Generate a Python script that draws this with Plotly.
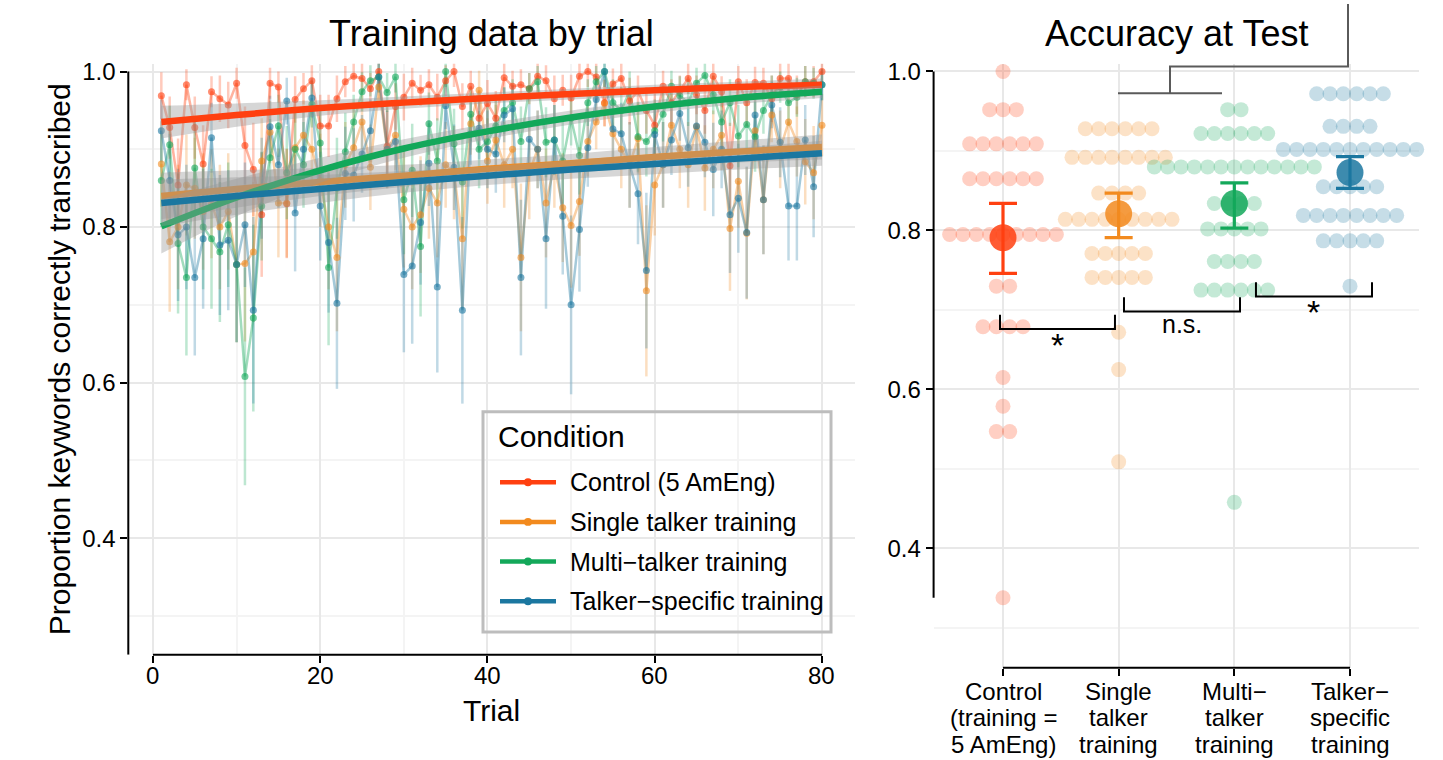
import plotly.graph_objects as go

W, H = 1443, 760
FONT = "Liberation Sans, Arial, Helvetica, sans-serif"

# ---------------- data: training (left panel) ----------------
trials = list(range(1, 81))
trial_ticks = [0, 20, 40, 60, 80]
conditions = ["Control (5 AmEng)", "Single talker training",
              "Multi\u2212talker training", "Talker\u2212specific training"]
cond_colors = ["#FF4010", "#F28A1E", "#13A85A", "#1B77A0"]

control_acc = [0.969, 0.928, 0.854, 0.983, 0.928, 0.881, 0.974, 0.965, 0.957, 0.985,
               0.905, 0.874, 0.816, 0.985, 0.980, 0.830, 0.964, 0.978, 0.988, 0.930,
               0.930, 0.965, 0.987, 0.994, 0.991, 0.978, 1.000, 0.904, 0.955, 0.967,
               0.985, 0.976, 0.983, 0.967, 0.988, 1.000, 0.955, 0.981, 0.940, 0.959,
               0.940, 0.992, 0.981, 0.983, 0.978, 0.994, 0.988, 0.965, 0.976, 0.966,
               0.994, 1.000, 0.993, 0.960, 0.984, 0.991, 0.962, 0.975, 0.950, 0.931,
               0.981, 0.960, 0.975, 0.991, 0.970, 0.950, 0.994, 0.974, 0.879, 0.987,
               0.960, 0.986, 0.985, 0.965, 0.991, 0.991, 0.970, 0.987, 0.987, 1.000]
single_acc = [0.881, 0.781, 0.800, 0.854, 0.850, 0.820, 0.830, 0.800, 0.820, 0.752,
              0.753, 0.768, 0.885, 0.922, 0.831, 0.831, 0.902, 0.918, 0.900, 0.860,
              0.800, 0.761, 0.880, 0.902, 0.935, 0.877, 0.980, 0.900, 0.918, 0.823,
              0.800, 0.816, 0.850, 0.831, 0.880, 0.870, 0.785, 0.933, 0.976, 0.885,
              0.912, 0.880, 0.900, 0.761, 0.870, 0.900, 0.831, 0.880, 0.825, 0.802,
              0.833, 0.910, 0.935, 0.959, 0.920, 0.900, 0.880, 0.914, 0.718, 0.854,
              0.880, 0.931, 0.900, 0.880, 0.929, 0.876, 0.900, 0.918, 0.798, 0.859,
              0.792, 0.924, 0.835, 0.944, 0.900, 0.935, 0.910, 0.884, 0.870, 0.931]
multi_acc = [0.860, 0.906, 0.779, 0.735, 0.876, 0.800, 0.785, 0.768, 0.803, 0.752,
             0.608, 0.683, 0.827, 0.889, 0.930, 0.870, 0.900, 0.880, 0.958, 0.908,
             0.748, 0.850, 0.897, 0.935, 0.974, 0.988, 0.993, 0.973, 0.993, 0.835,
             0.873, 0.775, 0.933, 0.885, 1.000, 0.907, 0.858, 0.945, 0.900, 0.910,
             0.930, 0.950, 0.960, 0.910, 0.978, 0.987, 0.909, 0.912, 0.885, 0.940,
             0.892, 0.960, 0.987, 1.000, 0.960, 0.950, 0.975, 0.916, 0.910, 0.924,
             0.945, 0.981, 0.969, 0.960, 0.985, 0.995, 0.970, 0.935, 0.960, 0.917,
             0.932, 0.916, 0.950, 0.970, 0.980, 0.960, 0.967, 0.987, 0.985, 0.983]
talker_acc = [0.924, 0.860, 0.790, 0.800, 0.735, 0.785, 0.915, 0.777, 0.783, 0.752,
              0.803, 0.693, 0.850, 0.929, 0.880, 0.962, 0.818, 0.900, 0.966, 0.827,
              0.780, 0.702, 0.869, 0.867, 0.894, 0.924, 0.993, 0.900, 0.910, 0.739,
              0.750, 0.806, 0.882, 0.723, 0.956, 0.877, 0.693, 0.920, 0.927, 0.900,
              0.894, 0.944, 0.952, 0.735, 0.913, 0.900, 0.785, 0.912, 0.814, 0.700,
              0.797, 0.902, 0.964, 1.000, 0.926, 0.920, 0.880, 0.843, 0.744, 0.919,
              0.880, 0.912, 0.946, 0.902, 0.930, 0.909, 0.874, 0.900, 0.816, 0.837,
              0.793, 0.944, 0.835, 0.957, 0.909, 0.827, 0.827, 0.912, 0.852, 0.983]

control_err = [0.03, 0.04, 0.06, 0.02, 0.04, 0.05, 0.02, 0.03, 0.03, 0.02,
               0.05, 0.06, 0.08, 0.02, 0.02, 0.07, 0.03, 0.02, 0.02, 0.04,
               0.04, 0.03, 0.02, 0.02, 0.02, 0.02, 0.02, 0.05, 0.03, 0.03,
               0.02, 0.02, 0.02, 0.03, 0.02, 0.02, 0.03, 0.02, 0.035, 0.03,
               0.035, 0.02, 0.02, 0.02, 0.02, 0.02, 0.02, 0.03, 0.02, 0.03,
               0.02, 0.02, 0.02, 0.03, 0.02, 0.02, 0.03, 0.02, 0.03, 0.04,
               0.02, 0.03, 0.02, 0.02, 0.025, 0.03, 0.02, 0.02, 0.055, 0.02,
               0.03, 0.02, 0.02, 0.03, 0.02, 0.02, 0.025, 0.02, 0.02, 0.02]
single_err = [0.055, 0.09, 0.08, 0.065, 0.065, 0.075, 0.07, 0.08, 0.075, 0.10,
              0.10, 0.09, 0.055, 0.04, 0.07, 0.07, 0.05, 0.045, 0.05, 0.06,
              0.08, 0.095, 0.055, 0.05, 0.035, 0.055, 0.02, 0.05, 0.045, 0.075,
              0.08, 0.075, 0.065, 0.07, 0.055, 0.06, 0.09, 0.04, 0.025, 0.055,
              0.045, 0.055, 0.05, 0.095, 0.06, 0.05, 0.07, 0.055, 0.07, 0.08,
              0.07, 0.045, 0.035, 0.03, 0.04, 0.05, 0.055, 0.045, 0.11, 0.065,
              0.055, 0.04, 0.05, 0.055, 0.04, 0.055, 0.05, 0.045, 0.08, 0.06,
              0.085, 0.04, 0.07, 0.035, 0.05, 0.035, 0.045, 0.055, 0.06, 0.04]
multi_err = [0.06, 0.05, 0.09, 0.10, 0.06, 0.08, 0.09, 0.09, 0.08, 0.10,
             0.14, 0.12, 0.07, 0.05, 0.04, 0.06, 0.05, 0.055, 0.03, 0.045,
             0.10, 0.065, 0.05, 0.035, 0.025, 0.02, 0.02, 0.025, 0.02, 0.07,
             0.06, 0.09, 0.04, 0.055, 0.02, 0.045, 0.06, 0.035, 0.05, 0.045,
             0.04, 0.03, 0.03, 0.045, 0.02, 0.02, 0.045, 0.045, 0.055, 0.035,
             0.05, 0.03, 0.02, 0.02, 0.03, 0.03, 0.025, 0.045, 0.045, 0.04,
             0.035, 0.02, 0.025, 0.03, 0.02, 0.02, 0.025, 0.035, 0.03, 0.04,
             0.04, 0.045, 0.03, 0.025, 0.02, 0.03, 0.025, 0.02, 0.02, 0.02]
talker_err = [0.04, 0.06, 0.085, 0.08, 0.10, 0.09, 0.045, 0.09, 0.09, 0.10,
              0.08, 0.12, 0.065, 0.04, 0.055, 0.03, 0.075, 0.05, 0.025, 0.07,
              0.09, 0.11, 0.06, 0.06, 0.05, 0.04, 0.02, 0.05, 0.045, 0.10,
              0.10, 0.08, 0.055, 0.11, 0.03, 0.055, 0.12, 0.04, 0.04, 0.05,
              0.05, 0.035, 0.03, 0.10, 0.045, 0.05, 0.09, 0.045, 0.075, 0.115,
              0.08, 0.05, 0.03, 0.02, 0.04, 0.04, 0.055, 0.065, 0.10, 0.04,
              0.055, 0.045, 0.035, 0.05, 0.04, 0.045, 0.06, 0.05, 0.075, 0.07,
              0.085, 0.035, 0.07, 0.03, 0.045, 0.07, 0.07, 0.045, 0.065, 0.02]

fit_trials = [1, 10, 20, 30, 40, 50, 60, 70, 80]
control_fit = [0.935, 0.944, 0.953, 0.960, 0.966, 0.971, 0.976, 0.980, 0.983]
single_fit = [0.840, 0.849, 0.858, 0.866, 0.875, 0.882, 0.890, 0.897, 0.903]
multi_fit = [0.801, 0.838, 0.873, 0.901, 0.923, 0.941, 0.955, 0.966, 0.974]
talker_fit = [0.831, 0.840, 0.849, 0.858, 0.866, 0.874, 0.881, 0.888, 0.895]
control_ci = [0.021, 0.015, 0.010, 0.008, 0.007, 0.007, 0.007, 0.007, 0.008]
single_ci = [0.030, 0.024, 0.018, 0.014, 0.012, 0.012, 0.013, 0.014, 0.016]
multi_ci = [0.035, 0.024, 0.016, 0.012, 0.010, 0.009, 0.008, 0.008, 0.008]
talker_ci = [0.030, 0.024, 0.018, 0.014, 0.012, 0.012, 0.013, 0.014, 0.016]

# ---------------- data: test (right panel) ----------------
test_labels = [["Control", "(training =", "5 AmEng)"],
               ["Single", "talker", "training"],
               ["Multi\u2212", "talker", "training"],
               ["Talker\u2212", "specific", "training"]]
control_levels = [1.000, 0.952, 0.909, 0.865, 0.795, 0.730, 0.679, 0.615, 0.579, 0.547, 0.338]
control_counts = [1, 3, 6, 6, 9, 2, 4, 1, 1, 2, 1]
single_levels = [0.928, 0.892, 0.847, 0.814, 0.771, 0.741, 0.672, 0.625, 0.509]
single_counts = [6, 8, 4, 9, 5, 5, 1, 1, 1]
multi_levels = [0.952, 0.922, 0.880, 0.834, 0.802, 0.761, 0.725, 0.458]
multi_counts = [2, 6, 13, 4, 5, 4, 6, 1]
talker_levels = [0.972, 0.931, 0.902, 0.855, 0.819, 0.787, 0.730]
talker_counts = [6, 4, 11, 5, 8, 5, 1]

test_means = [0.791, 0.821, 0.834, 0.873]
test_upper = [0.834, 0.847, 0.860, 0.893]
test_lower = [0.746, 0.791, 0.803, 0.853]

sig_x0 = [0.974, 2.046, 3.187]
sig_x1 = [1.968, 3.049, 4.190]
sig_top = [0.694, 0.716, 0.735]
sig_tip = 0.018
sig_text = ["*", "n.s.", "*"]
sig_text_y = [0.656, 0.682, 0.697]
sig_text_size = [34, 25, 34]

# ---------------- helpers ----------------
def rgba(hx, a):
    hx = hx.lstrip("#")
    r, g, b = int(hx[0:2], 16), int(hx[2:4], 16), int(hx[4:6], 16)
    return f"rgba({r},{g},{b},{a})"

def px(x):
    return x / W

def py(y):
    return 1 - y / H

fig = go.Figure()

acc_all = [control_acc, single_acc, multi_acc, talker_acc]
err_all = [control_err, single_err, multi_err, talker_err]
fit_all = [control_fit, single_fit, multi_fit, talker_fit]
ci_all = [control_ci, single_ci, multi_ci, talker_ci]

# error bars
for acc, err, col in zip(acc_all, err_all, cond_colors):
    fig.add_trace(go.Scatter(x=trials, y=acc, mode="markers", xaxis="x", yaxis="y",
                             marker=dict(size=1, color="rgba(0,0,0,0)"),
                             error_y=dict(type="data", array=err, visible=True, width=0,
                                          thickness=2.5, color=rgba(col, 0.28)),
                             showlegend=False, hoverinfo="skip"))
# connecting lines
for acc, col in zip(acc_all, cond_colors):
    fig.add_trace(go.Scatter(x=trials, y=acc, mode="lines", xaxis="x", yaxis="y",
                             line=dict(color=rgba(col, 0.4), width=2.5),
                             showlegend=False, hoverinfo="skip"))
# points
for acc, col in zip(acc_all, cond_colors):
    fig.add_trace(go.Scatter(x=trials, y=acc, mode="markers", xaxis="x", yaxis="y",
                             marker=dict(size=7, color=rgba(col, 0.6), line=dict(width=0)),
                             showlegend=False, hoverinfo="skip"))
# smooth fits with ribbons
for fit, ci, col in zip(fit_all, ci_all, cond_colors):
    up = [f + c for f, c in zip(fit, ci)]
    lo = [f - c for f, c in zip(fit, ci)]
    fig.add_trace(go.Scatter(x=fit_trials, y=up, mode="lines", xaxis="x", yaxis="y",
                             line=dict(width=0, shape="spline"), showlegend=False, hoverinfo="skip"))
    fig.add_trace(go.Scatter(x=fit_trials, y=lo, mode="lines", xaxis="x", yaxis="y",
                             line=dict(width=0, shape="spline"), fill="tonexty",
                             fillcolor="rgba(153,153,153,0.4)", showlegend=False, hoverinfo="skip"))
    fig.add_trace(go.Scatter(x=fit_trials, y=fit, mode="lines", xaxis="x", yaxis="y",
                             line=dict(width=6.5, color=col, shape="spline"),
                             showlegend=False, hoverinfo="skip"))

# ---------------- right panel: dot plot ----------------
DOT_STEP = 0.1153
levels_all = [control_levels, single_levels, multi_levels, talker_levels]
counts_all = [control_counts, single_counts, multi_counts, talker_counts]
for ci_, (lv, ct, col) in enumerate(zip(levels_all, counts_all, cond_colors)):
    xs, ys = [], []
    for v, n in zip(lv, ct):
        for i in range(n):
            xs.append(ci_ + 1 + (i - (n - 1) / 2) * DOT_STEP)
            ys.append(v)
    fig.add_trace(go.Scatter(x=xs, y=ys, mode="markers", xaxis="x2", yaxis="y2",
                             marker=dict(size=15, color=rgba(col, 0.25), line=dict(width=0)),
                             showlegend=False, hoverinfo="skip", cliponaxis=False))

for i, col in enumerate(cond_colors):
    fig.add_trace(go.Scatter(x=[i + 1], y=[test_means[i]], mode="markers", xaxis="x2", yaxis="y2",
                             marker=dict(size=27, color=rgba(col, 0.85), line=dict(width=0)),
                             error_y=dict(type="data", symmetric=False,
                                          array=[test_upper[i] - test_means[i]],
                                          arrayminus=[test_means[i] - test_lower[i]],
                                          width=14, thickness=3.2, color=col),
                             showlegend=False, hoverinfo="skip"))

# ---------------- layout geometry ----------------
L_X0, L_X1 = 128.3, 855.0
L_Y0, L_Y1 = 58.2, 654.0
R_X0, R_X1 = 933.6, 1419.4
R_Y0, R_Y1 = 58.0, 667.0

grid_major = "#E8E8E8"
grid_minor = "#F4F4F4"
tickfont = dict(family=FONT, size=24, color="black")

fig.update_layout(
    width=W, height=H, margin=dict(l=0, r=0, t=0, b=0),
    paper_bgcolor="white", plot_bgcolor="white",
    font=dict(family=FONT, color="black"),
    xaxis=dict(domain=[px(L_X0), px(L_X1)], range=[-2.95, 83.95], anchor="y",
               tickmode="array", tickvals=trial_ticks, showticklabels=False, ticks="outside",
               ticklen=7, tickwidth=2, tickcolor="black",
               showgrid=True, gridcolor=grid_major, gridwidth=1.5, zeroline=False, showline=False,
               minor=dict(tickvals=[10, 30, 50, 70], showgrid=True, gridcolor=grid_minor,
                          gridwidth=1.5, ticks="")),
    yaxis=dict(domain=[py(L_Y1), py(L_Y0)], range=[0.25, 1.01], anchor="x",
               tickmode="array", tickvals=[0.4, 0.6, 0.8, 1.0], ticktext=["0.4", "0.6", "0.8", "1.0"],
               ticks="outside", ticklen=7, tickwidth=2, tickcolor="black", tickfont=tickfont,
               showgrid=True, gridcolor=grid_major, gridwidth=1.5, zeroline=False, showline=False,
               minor=dict(tickvals=[0.3, 0.5, 0.7, 0.9], showgrid=True, gridcolor=grid_minor,
                          gridwidth=1.5, ticks="")),
    xaxis2=dict(domain=[px(R_X0), px(R_X1)], range=[0.4, 4.6], anchor="y2",
                tickmode="array", tickvals=[1, 2, 3, 4], showticklabels=False,
                ticks="outside", ticklen=7, tickwidth=2, tickcolor="black",
                showgrid=True, gridcolor=grid_major, gridwidth=1.5, zeroline=False, showline=False),
    yaxis2=dict(domain=[py(R_Y1), py(R_Y0)], range=[0.25, 1.01], anchor="x2",
                tickmode="array", tickvals=[0.4, 0.6, 0.8, 1.0], ticktext=["0.4", "0.6", "0.8", "1.0"],
                ticks="outside", ticklen=7, tickwidth=2, tickcolor="black", tickfont=tickfont,
                showgrid=True, gridcolor=grid_major, gridwidth=1.5, zeroline=False, showline=False,
                minor=dict(tickvals=[0.3, 0.5, 0.7, 0.9], showgrid=True, gridcolor=grid_minor,
                           gridwidth=1.5, ticks="")),
)

shapes = []
axis_line = dict(color="black", width=2)
# capped axis lines
shapes.append(dict(type="line", xref="x domain", yref="y", x0=0, x1=0, y0=0.25, y1=1.0, line=axis_line))
shapes.append(dict(type="line", xref="x", yref="y domain", x0=trial_ticks[0], x1=trial_ticks[-1], y0=0, y1=0, line=axis_line))
all_test = control_levels + single_levels + multi_levels + talker_levels
shapes.append(dict(type="line", xref="x2 domain", yref="y2", x0=0, x1=0, y0=min(all_test), y1=1.0, line=axis_line))
shapes.append(dict(type="line", xref="x2", yref="y2 domain", x0=1, x1=4, y0=0, y1=0, line=axis_line))

# significance brackets
for x0, x1, yt in zip(sig_x0, sig_x1, sig_top):
    shapes.append(dict(type="path", xref="x2", yref="y2",
                       path=f"M {x0},{yt} L {x0},{yt - sig_tip} L {x1},{yt - sig_tip} L {x1},{yt}",
                       line=dict(color="black", width=2)))

# grey comparison bracket at top
gb = "#5A5A5A"
shapes.append(dict(type="path", xref="paper", yref="paper",
                   path=f"M {px(1348)},{py(-2)} L {px(1348)},{py(61)} L {px(1170)},{py(61)} L {px(1170)},{py(88)}",
                   line=dict(color=gb, width=2)))
shapes.append(dict(type="line", xref="paper", yref="paper", x0=px(1118), x1=px(1222), y0=py(88), y1=py(88),
                   line=dict(color=gb, width=2)))

# legend box
shapes.append(dict(type="rect", xref="paper", yref="paper", x0=px(483), x1=px(831), y0=py(631), y1=py(409),
                   line=dict(color="#BDBDBD", width=3), fillcolor="rgba(0,0,0,0)"))
leg_rows = [480, 520, 560, 600]
for yrow, col in zip(leg_rows, cond_colors):
    shapes.append(dict(type="line", xref="paper", yref="paper", x0=px(500), x1=px(556), y0=py(yrow), y1=py(yrow),
                       line=dict(color=col, width=4.5)))
    shapes.append(dict(type="circle", xref="paper", yref="paper", x0=px(524), x1=px(532),
                       y0=py(yrow + 4), y1=py(yrow - 4), line=dict(width=0), fillcolor=col))

annotations = []
annotations.append(dict(text="Training data by trial", xref="paper", yref="paper",
                        x=px((L_X0 + L_X1) / 2), y=py(28), showarrow=False,
                        font=dict(family=FONT, size=36, color="black"), xanchor="center", yanchor="middle"))
annotations.append(dict(text="Accuracy at Test", xref="paper", yref="paper",
                        x=px((R_X0 + R_X1) / 2), y=py(28), showarrow=False,
                        font=dict(family=FONT, size=36, color="black"), xanchor="center", yanchor="middle"))
annotations.append(dict(text="Proportion keywords correctly transcribed", xref="paper", yref="paper",
                        x=px(59), y=py(356), textangle=-90, showarrow=False,
                        font=dict(family=FONT, size=30, color="black"), xanchor="center", yanchor="middle"))
annotations.append(dict(text="Trial", xref="paper", yref="paper",
                        x=px((L_X0 + L_X1) / 2), y=py(710), showarrow=False,
                        font=dict(family=FONT, size=30, color="black"), xanchor="center", yanchor="middle"))
# left x tick labels
for t in trial_ticks:
    annotations.append(dict(text=str(t), xref="x", yref="paper", x=t, y=py(675), showarrow=False,
                            font=tickfont, xanchor="center", yanchor="middle"))
annotations.append(dict(text="Condition", xref="paper", yref="paper", x=px(496), y=py(434),
                        showarrow=False, font=dict(family=FONT, size=30, color="black"),
                        xanchor="left", yanchor="middle"))
for yrow, name in zip(leg_rows, conditions):
    annotations.append(dict(text=name, xref="paper", yref="paper", x=px(568), y=py(yrow),
                            showarrow=False, font=dict(family=FONT, size=25, color="black"),
                            xanchor="left", yanchor="middle"))
# category labels (3 lines each)
line_y = [691, 717.5, 744]
for i, lines in enumerate(test_labels):
    for ly, t in zip(line_y, lines):
        annotations.append(dict(text=t, xref="x2", yref="paper", x=i + 1, y=py(ly), showarrow=False,
                                font=dict(family=FONT, size=24, color="black"),
                                xanchor="center", yanchor="middle"))
# significance labels
for x0, x1, ty, txt, fs in zip(sig_x0, sig_x1, sig_text_y, sig_text, sig_text_size):
    annotations.append(dict(text=txt, xref="x2", yref="y2", x=(x0 + x1) / 2, y=ty,
                            showarrow=False, font=dict(family=FONT, size=fs, color="black"),
                            xanchor="center", yanchor="middle"))

fig.update_layout(shapes=shapes, annotations=annotations)
fig.write_html("out.html")
